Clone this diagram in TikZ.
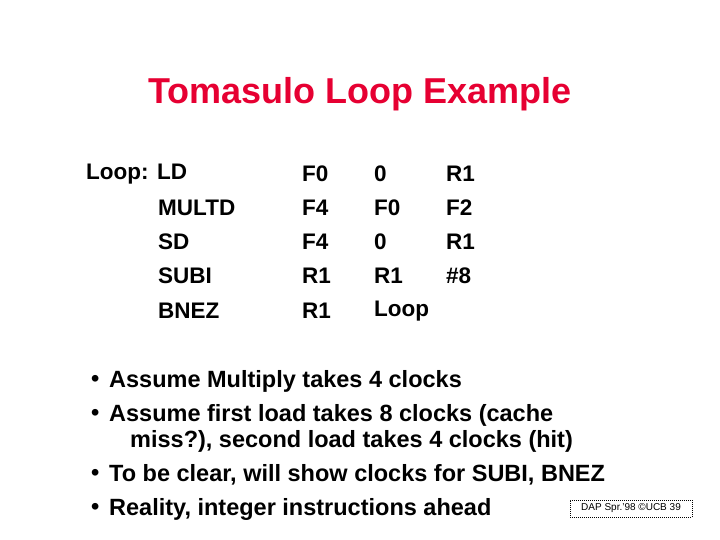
\documentclass[tikz,border=0pt]{standalone}
\usepackage{fontspec}
\setmainfont{Liberation Sans}
\begin{document}
\begin{tikzpicture}[x=1pt,y=-1pt,
 t/.style={anchor=west,inner sep=0pt,font=\fontsize{22.5}{26}\selectfont\bfseries},
 b/.style={anchor=west,inner sep=0pt,font=\fontsize{23.5}{27}\selectfont\bfseries}]
\useasboundingbox (0,0) rectangle (720,540);
\node[font=\fontsize{36}{42}\selectfont\bfseries,text={rgb,255:red,230;green,0;blue,50},inner sep=0pt] (title) at (360,94) {Tomasulo Loop Example};
\node[t] (l0) at (86,174) {Loop: LD};
\node[t] (l1) at (158,208) {MULTD};
\node[t] (l2) at (158,242) {SD};
\node[t] (l3) at (158,276) {SUBI};
\node[t] (l4) at (158,311) {BNEZ};
\foreach \y/\a/\b/\c [count=\i] in {174/F0/0/R1,208/F4/F0/F2,242/F4/0/R1,276/R1/R1/\#8,311/R1/Loop/}{
 \node[t] (a\i) at (302,\y) {\a};
 \node[t] (b\i) at (374,\y) {\b};
 \node[t] (c\i) at (446,\y) {\c};
}
\foreach \y/\s [count=\i] in {381/Assume Multiply takes 4 clocks,415/Assume first load takes 8 clocks (cache,475/{To be clear, will show clocks for SUBI, BNEZ},509/{Reality, integer instructions ahead}}{
 \node[b] (d\i) at (91,\y) {\textbullet};
 \node[b] (s\i) at (109,\y) {\s};
}
\node[b] (s2b) at (130,441) {miss?), second load takes 4 clocks (hit)};
\node[draw,densely dotted,line width=1pt,minimum width=122,minimum height=17,inner sep=0pt,font=\fontsize{10}{12}\selectfont] (box) at (631,508.5) {DAP Spr.'98 \textcopyright UCB 39};
\end{tikzpicture}
\end{document}
